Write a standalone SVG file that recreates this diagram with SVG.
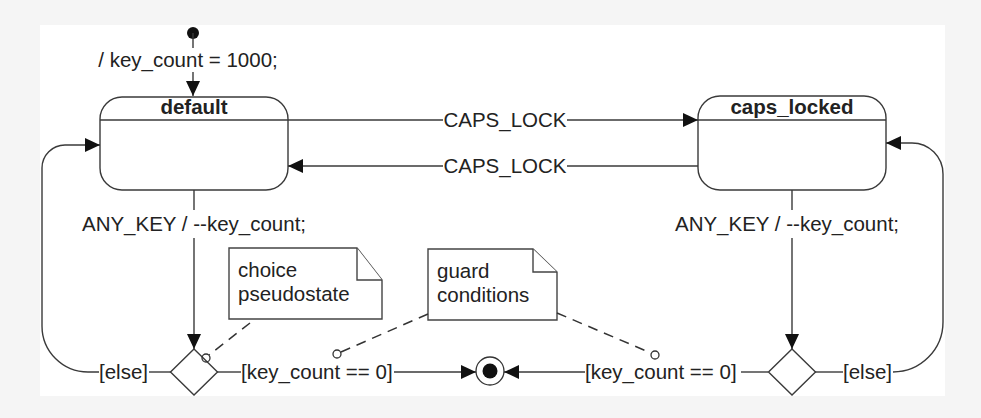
<svg xmlns="http://www.w3.org/2000/svg" width="981" height="418" viewBox="0 0 981 418">
  <defs>
    <style>
      .ln{fill:none;stroke:#3a3a3a;stroke-width:1.4}
      .st{fill:#fff;stroke:#3a3a3a;stroke-width:1.4}
      .note{fill:#fff;stroke:#444;stroke-width:1.4}
      .dash{fill:none;stroke:#333;stroke-width:1.5;stroke-dasharray:10 7}
      .t{font-family:"Liberation Sans",Arial,sans-serif;font-size:20.5px;fill:#222}
      .b{font-weight:bold;text-anchor:middle}
      .m{text-anchor:middle}
      .pin{fill:none;stroke:#333;stroke-width:1.3}
    </style>
    <marker id="arr" viewBox="0 0 15 14" refX="15" refY="7" markerWidth="15" markerHeight="14" markerUnits="userSpaceOnUse" orient="auto">
      <path d="M0,0 L15,7 L0,14 Z" fill="#111"/>
    </marker>
  </defs>
  <rect width="981" height="418" fill="#f5f5f5"/>
  <rect x="40" y="25" width="905" height="371" fill="#fff"/>

  <g id="initial">
    <circle cx="193" cy="33" r="6" fill="#111"/>
  </g>

  <g id="default">
    <rect class="st" x="100" y="97" width="188" height="93" rx="22"/>
    <path class="ln" d="M100,120 H288"/>
    <text class="t b" x="194" y="114">default</text>
  </g>

  <g id="caps_locked">
    <rect class="st" x="698" y="96" width="188" height="94" rx="22"/>
    <path class="ln" d="M698,120 H886"/>
    <text class="t b" x="792" y="114">caps_locked</text>
  </g>

  <g id="choice_left">
    <path class="st" d="M194,349 L217.5,372 L194,395 L170.5,372 Z"/>
  </g>

  <g id="choice_right">
    <path class="st" d="M792,349 L815.5,372 L792,395 L768.5,372 Z"/>
  </g>

  <g id="final">
    <circle cx="490" cy="371" r="14" fill="#fff" stroke="#333" stroke-width="1.3"/>
    <circle cx="490" cy="371" r="7.5" fill="#111"/>
  </g>

  <g id="note_choice">
    <path class="note" d="M229,248 H357 L382,280 V319 H229 Z"/>
    <path class="note" d="M357,248 V280 H382" fill="none"/>
    <text class="t" x="238" y="277">choice</text>
    <text class="t" x="238" y="301">pseudostate</text>
  </g>

  <g id="note_guard">
    <path class="note" d="M428,249 H533 L557,272 V320 H428 Z"/>
    <path class="note" d="M533,249 V272 H557" fill="none"/>
    <text class="t" x="437" y="278">guard</text>
    <text class="t" x="437" y="302">conditions</text>
  </g>

  <g id="connectors">
    <!-- initial -->
    <path class="ln" d="M193,33 V48"/>
    <path class="ln" d="M193,72 V96" marker-end="url(#arr)"/>
    <text class="t m" x="188" y="67">/ key_count = 1000;</text>
    <!-- CAPS_LOCK top -->
    <path class="ln" d="M288,120 H443"/>
    <path class="ln" d="M567,120 H698" marker-end="url(#arr)"/>
    <text class="t m" x="505" y="127">CAPS_LOCK</text>
    <!-- CAPS_LOCK bottom -->
    <path class="ln" d="M698,166 H567"/>
    <path class="ln" d="M443,166 H288" marker-end="url(#arr)"/>
    <text class="t m" x="505" y="173">CAPS_LOCK</text>
    <!-- ANY_KEY left -->
    <path class="ln" d="M194,190 V210"/>
    <path class="ln" d="M194,238 V349" marker-end="url(#arr)"/>
    <text class="t m" x="194" y="231">ANY_KEY / --key_count;</text>
    <!-- ANY_KEY right -->
    <path class="ln" d="M792,190 V210"/>
    <path class="ln" d="M792,238 V349" marker-end="url(#arr)"/>
    <text class="t m" x="787" y="231">ANY_KEY / --key_count;</text>
    <!-- left else loop -->
    <path class="ln" d="M171,372 H149"/>
    <path class="ln" d="M99,372 H88 A46,46 0 0 1 42,326 V168 A23,23 0 0 1 65,145 H100" marker-end="url(#arr)"/>
    <text class="t" x="99" y="379">[else]</text>
    <!-- right else loop -->
    <path class="ln" d="M815,372 H843"/>
    <path class="ln" d="M893,372 A50,50 0 0 0 943,322 V174 A31,31 0 0 0 912,143 H886" marker-end="url(#arr)"/>
    <text class="t" x="843" y="379">[else]</text>
    <!-- left guard to final -->
    <path class="ln" d="M217,372 H241"/>
    <path class="ln" d="M394,372 H476" marker-end="url(#arr)"/>
    <text class="t" x="241" y="379">[key_count == 0]</text>
    <!-- right guard to final -->
    <path class="ln" d="M768,372 H741"/>
    <path class="ln" d="M585,372 H504" marker-end="url(#arr)"/>
    <text class="t" x="585" y="379">[key_count == 0]</text>
    <!-- note anchors -->
    <path class="dash" d="M250,323 L209,355"/>
    <circle class="pin" cx="206" cy="358" r="4"/>
    <path class="dash" d="M428,314 L341,352"/>
    <circle class="pin" cx="337" cy="354" r="4"/>
    <path class="dash" d="M557,313 L651,353"/>
    <circle class="pin" cx="655" cy="355" r="4"/>
  </g>
</svg>
